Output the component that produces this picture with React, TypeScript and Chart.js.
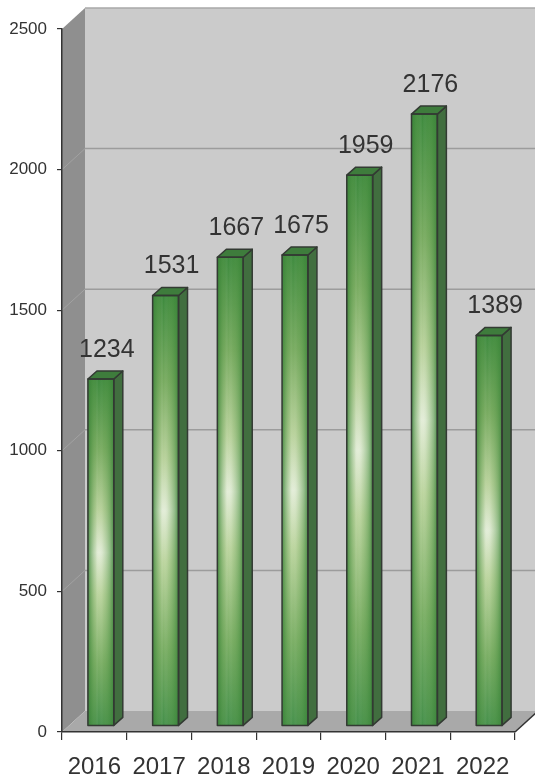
import React, { useEffect, useRef } from 'react';
import { Chart, registerables } from 'chart.js';

Chart.register(...registerables);

// ---- data ----
const years = ['2016', '2017', '2018', '2019', '2020', '2021', '2022'];
const counts = [1234, 1531, 1667, 1675, 1959, 2176, 1389];
const Y_MIN = 0;
const Y_MAX = 2500;
const Y_STEP = 500;

// ---- styling ----
const W = 535;
const H = 780;
const WALL_DX = 23;
const WALL_DY = 21;
const BAR_DX = 6.5;
const BAR_DY = 6;
const BAR_DEPTH_X = 9;
const BAR_DEPTH_Y = 8;
const LABEL_DX = 6;
const LABEL_DY = 28;

const FONT = "'Liberation Sans', Arial, sans-serif";

function poly(ctx: CanvasRenderingContext2D, pts: number[][]) {
  ctx.beginPath();
  ctx.moveTo(pts[0][0], pts[0][1]);
  for (let i = 1; i < pts.length; i++) ctx.lineTo(pts[i][0], pts[i][1]);
  ctx.closePath();
}

const threeDPlugin = {
  id: 'threeD',
  beforeDraw(chart: any) {
    const { ctx, chartArea: a, scales } = chart;
    const ys = scales.y;
    ctx.save();
    // back wall
    ctx.fillStyle = '#cbcbcb';
    ctx.fillRect(a.left + WALL_DX, a.top - WALL_DY, W, a.bottom - a.top);
    ctx.strokeStyle = '#a9a9a9';
    ctx.lineWidth = 1.5;
    ctx.beginPath();
    ctx.moveTo(a.left + WALL_DX, a.top - WALL_DY);
    ctx.lineTo(W + 5, a.top - WALL_DY);
    ctx.stroke();
    // side wall
    ctx.fillStyle = '#8f8f8f';
    poly(ctx, [
      [a.left, a.top],
      [a.left + WALL_DX, a.top - WALL_DY],
      [a.left + WALL_DX, a.bottom - WALL_DY],
      [a.left, a.bottom],
    ]);
    ctx.fill();
    // floor
    ctx.fillStyle = '#a9a9a9';
    poly(ctx, [
      [a.left, a.bottom],
      [a.right, a.bottom],
      [a.right + WALL_DX, a.bottom - WALL_DY],
      [a.left + WALL_DX, a.bottom - WALL_DY],
    ]);
    ctx.fill();
    // grid lines on back wall and side wall
    for (const t of ys.ticks) {
      if (t.value <= Y_MIN || t.value >= Y_MAX) continue;
      const py = ys.getPixelForValue(t.value);
      ctx.strokeStyle = '#9c9c9c';
      ctx.lineWidth = 1.5;
      ctx.beginPath();
      ctx.moveTo(a.left + WALL_DX, py - WALL_DY);
      ctx.lineTo(W + 5, py - WALL_DY);
      ctx.stroke();
      ctx.strokeStyle = '#a2a2a2';
      ctx.lineWidth = 1;
      ctx.beginPath();
      ctx.moveTo(a.left, py);
      ctx.lineTo(a.left + WALL_DX, py - WALL_DY);
      ctx.stroke();
    }
    // right floor edge
    ctx.strokeStyle = '#333';
    ctx.lineWidth = 1.5;
    ctx.beginPath();
    ctx.moveTo(a.right, a.bottom);
    ctx.lineTo(a.right + WALL_DX, a.bottom - WALL_DY);
    ctx.stroke();
    ctx.restore();
  },
  beforeDatasetsDraw(chart: any) {
    chart.ctx.save();
    chart.ctx.translate(BAR_DX, -BAR_DY);
  },
  afterDatasetsDraw(chart: any) {
    const ctx: CanvasRenderingContext2D = chart.ctx;
    ctx.restore();
    const meta = chart.getDatasetMeta(0);
    meta.data.forEach((el: any, i: number) => {
      const { x, y, base, width } = el.getProps(['x', 'y', 'base', 'width'], true);
      const xl = x - width / 2 + BAR_DX;
      const xr = x + width / 2 + BAR_DX;
      const yt = y - BAR_DY;
      const yb = base - BAR_DY;
      ctx.save();
      // horizontal shading overlay on front
      const hg = ctx.createLinearGradient(xl, 0, xr, 0);
      hg.addColorStop(0, 'rgba(58,128,58,0.85)');
      hg.addColorStop(0.12, 'rgba(70,140,62,0.55)');
      hg.addColorStop(0.3, 'rgba(110,165,90,0.2)');
      hg.addColorStop(0.42, 'rgba(255,255,255,0)');
      hg.addColorStop(0.6, 'rgba(110,165,90,0.15)');
      hg.addColorStop(0.85, 'rgba(70,140,62,0.5)');
      hg.addColorStop(1, 'rgba(58,128,58,0.85)');
      ctx.fillStyle = hg;
      ctx.fillRect(xl, yt, xr - xl, yb - yt);
      // side face
      ctx.fillStyle = '#416e3f';
      poly(ctx, [
        [xr, yt],
        [xr + BAR_DEPTH_X, yt - BAR_DEPTH_Y],
        [xr + BAR_DEPTH_X, yb - BAR_DEPTH_Y],
        [xr, yb],
      ]);
      ctx.fill();
      ctx.strokeStyle = '#333a33';
      ctx.lineWidth = 1.5;
      ctx.lineJoin = 'round';
      ctx.stroke();
      // top face
      ctx.fillStyle = '#3e7c3c';
      poly(ctx, [
        [xl, yt],
        [xl + BAR_DEPTH_X, yt - BAR_DEPTH_Y],
        [xr + BAR_DEPTH_X, yt - BAR_DEPTH_Y],
        [xr, yt],
      ]);
      ctx.fill();
      ctx.stroke();
      // front outline
      ctx.strokeRect(xl, yt, xr - xl, yb - yt);
      // value label
      ctx.fillStyle = '#333333';
      ctx.font = `25px ${FONT}`;
      ctx.textAlign = 'center';
      ctx.textBaseline = 'alphabetic';
      ctx.fillText(String(counts[i]), x + BAR_DX + LABEL_DX, y - LABEL_DY);
      ctx.restore();
    });
  },
};

export default function App() {
  const ref = useRef<HTMLCanvasElement | null>(null);
  useEffect(() => {
    if (!ref.current) return;
    const chart = new Chart(ref.current, {
      type: 'bar',
      data: {
        labels: years,
        datasets: [
          {
            data: counts,
            borderWidth: 0,
            backgroundColor: (c: any) => {
              const ch = c.chart;
              const ys = ch.scales && ch.scales.y;
              if (!ys || c.raw === undefined) return '#5a9a50';
              const top = ys.getPixelForValue(c.raw);
              const bot = ys.getPixelForValue(Y_MIN);
              if (!isFinite(top) || !isFinite(bot) || top === bot) return '#5a9a50';
              const g = ch.ctx.createLinearGradient(0, top, 0, bot);
              g.addColorStop(0, '#3d8a3d');
              g.addColorStop(0.2, '#78ab60');
              g.addColorStop(0.38, '#b9d29c');
              g.addColorStop(0.5, '#e3edd8');
              g.addColorStop(0.62, '#bcd59f');
              g.addColorStop(0.82, '#7aae64');
              g.addColorStop(1, '#45904a');
              return g;
            },
            barPercentage: 0.4,
            categoryPercentage: 1,
          },
        ],
      },
      options: {
        responsive: false,
        animation: false,
        devicePixelRatio: 1,
        layout: { padding: { top: 29, right: 20, left: 0, bottom: 0 } },
        plugins: {
          legend: { display: false },
          tooltip: { enabled: false },
        },
        scales: {
          x: {
            type: 'category',
            offset: true,
            grid: {
              offset: true,
              drawOnChartArea: false,
              drawTicks: true,
              tickLength: 8,
              color: '#333',
              lineWidth: 1.2,
            },
            border: { display: true, color: '#333', width: 1.5 },
            ticks: {
              color: '#333',
              padding: 13,
              font: { family: FONT, size: 24 },
              maxRotation: 0,
              autoSkip: false,
            },
            afterFit: (s: any) => {
              s.height = 48;
            },
          },
          y: {
            min: Y_MIN,
            max: Y_MAX,
            ticks: {
              stepSize: Y_STEP,
              color: '#333',
              padding: 10,
              font: { family: FONT, size: 17 },
              callback: (v: any) => String(v),
            },
            grid: {
              drawOnChartArea: false,
              drawTicks: true,
              tickLength: 5,
              color: '#333',
              lineWidth: 1.2,
            },
            border: { display: true, color: '#333', width: 1.5 },
            afterFit: (s: any) => {
              s.width = 62;
            },
          },
        },
      },
      plugins: [threeDPlugin],
    } as any);
    return () => chart.destroy();
  }, []);
  return (
    <div style={{ position: 'absolute', left: 0, top: 0, width: W, height: H, background: '#fff' }}>
      <canvas ref={ref} width={W} height={H} style={{ display: 'block' }} />
    </div>
  );
}
